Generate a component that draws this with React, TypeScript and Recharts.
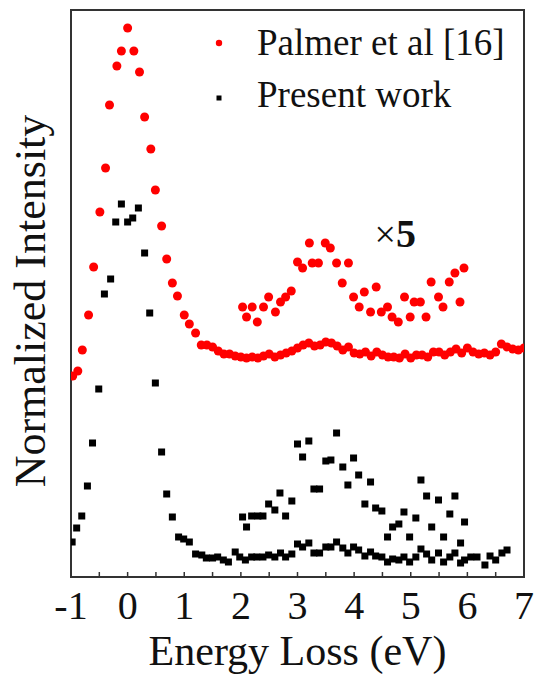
import {
  ScatterChart,
  Scatter,
  XAxis,
  YAxis,
  Legend,
  ReferenceArea,
  ReferenceDot
} from 'recharts';

const FONT = '"Liberation Serif", "Times New Roman", Times, serif';

// x axis ticks (major at integers, minor at half eV)
const energyTicks = [-1, -0.5, 0, 0.5, 1, 1.5, 2, 2.5, 3, 3.5, 4, 4.5, 5, 5.5, 6, 6.5, 7];

// Palmer et al [16] – full spectrum
const palmerEnergy = [
  -0.97, -0.88, -0.8, -0.69, -0.6, -0.49, -0.39, -0.32, -0.19, -0.11, 0, 0.11, 0.21, 0.3, 0.41,
  0.49, 0.6, 0.69, 0.79, 0.88, 1.0, 1.09, 1.2, 1.3, 1.4, 1.5, 1.6, 1.7, 1.8, 1.9, 2.0, 2.1, 2.2,
  2.3, 2.4, 2.5, 2.6, 2.7, 2.8, 2.9, 3.0, 3.1, 3.2, 3.3, 3.4, 3.5, 3.6, 3.7, 3.8, 3.9, 4.0, 4.1,
  4.2, 4.3, 4.4, 4.5, 4.6, 4.7, 4.8, 4.9, 5.0, 5.1, 5.2, 5.3, 5.4, 5.5, 5.6, 5.7, 5.8, 5.9, 6.0,
  6.1, 6.2, 6.3, 6.4, 6.5, 6.6, 6.7, 6.8, 6.9, 7.0
];
const palmerIntensity = [
  2.01, 2.06, 2.27, 2.62, 3.1, 3.65, 4.09, 4.72, 5.11, 5.26, 5.49, 5.26, 5.05, 4.6, 4.28,
  3.87, 3.51, 3.18, 2.94, 2.81, 2.62, 2.53, 2.44, 2.32, 2.32, 2.3, 2.26, 2.23, 2.23, 2.21, 2.2, 2.19, 2.2,
  2.19, 2.21, 2.23, 2.2, 2.22, 2.24, 2.26, 2.29, 2.32, 2.34, 2.31, 2.32, 2.35, 2.34, 2.31, 2.27, 2.3, 2.24, 2.23,
  2.25, 2.21, 2.25, 2.22, 2.2, 2.2, 2.19, 2.23, 2.19, 2.22, 2.22, 2.2, 2.25, 2.25, 2.22, 2.25, 2.28, 2.24, 2.29,
  2.25, 2.23, 2.24, 2.22, 2.25, 2.33, 2.3, 2.28, 2.27, 2.29
];

// Palmer et al [16] – x5 magnified region
const palmerX5Energy = [
  2.03, 2.1, 2.2, 2.29, 2.4, 2.49, 2.61, 2.7, 2.79, 2.89, 3.0, 3.09, 3.21, 3.26, 3.37, 3.49, 3.58,
  3.69, 3.79, 3.9, 3.99, 4.09, 4.18, 4.29, 4.39, 4.48, 4.59, 4.67, 4.78, 4.89, 4.99, 5.06, 5.17,
  5.27, 5.36, 5.49, 5.57, 5.68, 5.78, 5.87, 5.94
];
const palmerX5Intensity = [
  2.7, 2.6, 2.7, 2.55, 2.7, 2.8, 2.65, 2.75, 2.8, 2.86, 3.15, 3.09, 3.34, 3.14, 3.14, 3.34, 3.29,
  3.14, 2.94, 3.14, 2.8, 2.7, 2.85, 2.65, 2.9, 2.65, 2.7, 2.6, 2.55, 2.8, 2.6, 2.75, 2.75,
  2.6, 2.95, 2.8, 2.7, 2.95, 3.04, 2.75, 3.09
];

// Present work – full spectrum
const presentEnergy = [
  -0.98, -0.9, -0.81, -0.71, -0.62, -0.51, -0.41, -0.3, -0.21, -0.11, 0, 0.09, 0.19, 0.3, 0.39,
  0.49, 0.6, 0.69, 0.79, 0.9, 0.99, 1.09, 1.2, 1.31, 1.39, 1.5, 1.59, 1.69, 1.78, 1.9, 1.98, 2.08,
  2.19, 2.28, 2.39, 2.49, 2.6, 2.7, 2.79, 2.9, 3.0, 3.09, 3.2, 3.29, 3.39, 3.5, 3.59, 3.69, 3.8,
  3.89, 3.99, 4.08, 4.19, 4.29, 4.38, 4.49, 4.59, 4.68, 4.79, 4.88, 4.98, 5.09, 5.18, 5.28, 5.37,
  5.49, 5.58, 5.69, 5.78, 5.88, 5.95, 6.06, 6.17, 6.31, 6.4, 6.5, 6.61, 6.7
];
const presentIntensity = [
  0.35, 0.49, 0.61, 0.91, 1.34, 1.88, 2.83, 2.98, 3.55, 3.73, 3.55, 3.59, 3.69, 3.24, 2.64,
  1.94, 1.25, 0.83, 0.6, 0.4, 0.38, 0.35, 0.23, 0.22, 0.19, 0.19, 0.2, 0.17, 0.15, 0.25, 0.2, 0.17,
  0.2, 0.2, 0.2, 0.22, 0.2, 0.24, 0.2, 0.23, 0.33, 0.3, 0.34, 0.24, 0.24, 0.3, 0.3, 0.35, 0.29,
  0.24, 0.3, 0.27, 0.21, 0.25, 0.21, 0.2, 0.15, 0.18, 0.17, 0.2, 0.15, 0.2, 0.28, 0.23, 0.17,
  0.24, 0.15, 0.2, 0.24, 0.14, 0.17, 0.2, 0.2, 0.12, 0.21, 0.17, 0.24, 0.27
];

// Present work – x5 magnified region
const presentX5Energy = [
  2.03, 2.1, 2.19, 2.3, 2.39, 2.49, 2.6, 2.69, 2.79, 2.9, 3.0, 3.09, 3.2, 3.29, 3.39, 3.5, 3.59,
  3.69, 3.8, 3.89, 3.99, 4.08, 4.19, 4.29, 4.38, 4.49, 4.59, 4.68, 4.79, 4.88, 4.98, 5.09, 5.18,
  5.28, 5.37, 5.49, 5.58, 5.69, 5.78, 5.88, 5.95
];
const presentX5Intensity = [
  0.6, 0.5, 0.61, 0.61, 0.61, 0.73, 0.67, 0.84, 0.61, 0.76, 1.33, 1.2, 1.36, 0.88, 0.88, 1.16, 1.17,
  1.44, 1.1, 0.92, 1.19, 1.02, 0.73, 0.95, 0.69, 0.66, 0.4, 0.5, 0.53, 0.65, 0.4, 0.59, 0.97,
  0.81, 0.5, 0.77, 0.4, 0.63, 0.81, 0.34, 0.55
];

const toPoints = (xs: number[], ys: number[]) => xs.map((x, i) => ({ x, y: ys[i] }));

const palmerData = [...toPoints(palmerEnergy, palmerIntensity), ...toPoints(palmerX5Energy, palmerX5Intensity)];
const presentData = [...toPoints(presentEnergy, presentIntensity), ...toPoints(presentX5Energy, presentX5Intensity)];

const RED = '#ff0000';
const FRAME = '#333';

const RedDot = (p: any) => <circle cx={p.cx} cy={p.cy} r={4.5} fill={RED} />;
const BlackSquare = (p: any) => (
  <rect x={p.cx - 3.5} y={p.cy - 3.5} width={7} height={7} fill="#000" />
);

// inward ticks on the bottom axis, labels only on whole eV
const EnergyTick = ({ x, y, payload }: any) => {
  const v = payload.value;
  return (
    <g>
      <line x1={x} x2={x} y1={y} y2={y - 5} stroke={FRAME} strokeWidth={1.5} />
      {Number.isInteger(v) && (
        <text x={x} y={y + 42} textAnchor="middle" fontSize={40} fontFamily={FONT} fill="#111">
          {v}
        </text>
      )}
    </g>
  );
};

const renderLegend = () => (
  <svg width={330} height={110} style={{ display: 'block' }}>
    <circle cx={19} cy={33} r={3.2} fill={RED} />
    <text x={57} y={45} fontSize={37} fontFamily={FONT} fill="#111">
      Palmer et al [16]
    </text>
    <rect x={16.5} y={85.5} width={5} height={5} fill="#000" />
    <text x={57} y={97} fontSize={37} fontFamily={FONT} fill="#111">
      Present work
    </text>
  </svg>
);

export default function App() {
  return (
    <div style={{ position: 'absolute', left: 0, top: 0, width: 535, height: 677, background: '#fff' }}>
      <ScatterChart width={535} height={677} margin={{ top: 10, right: 11, bottom: 0, left: 0 }}>
        <XAxis
          type="number"
          dataKey="x"
          domain={[-1, 7]}
          ticks={energyTicks}
          interval={0}
          allowDataOverflow
          height={100}
          axisLine={false}
          tickLine={false}
          tickSize={0}
          tickMargin={0}
          tick={<EnergyTick />}
          label={({ viewBox }: any) => (
            <text
              x={viewBox.x + viewBox.width / 2}
              y={viewBox.y + 88}
              textAnchor="middle"
              fontSize={42}
              fontFamily={FONT}
              fill="#111"
            >
              Energy Loss (eV)
            </text>
          )}
        />
        <YAxis
          type="number"
          dataKey="y"
          domain={[0, 5.67]}
          allowDataOverflow
          width={71}
          tick={false}
          axisLine={false}
          tickLine={false}
          label={() => (
            <text
              x={45}
              y={301}
              transform="rotate(-90, 45, 301)"
              textAnchor="middle"
              fontSize={44}
              fontFamily={FONT}
              fill="#111"
            >
              Normalized Intensity
            </text>
          )}
        />
        <Legend
          layout="vertical"
          align="center"
          verticalAlign="middle"
          content={renderLegend}
          wrapperStyle={{ left: 200, top: 10, width: 330, height: 110 }}
        />
        <Scatter
          name="Palmer et al [16]"
          data={palmerData}
          shape={RedDot}
          isAnimationActive={false}
        />
        <Scatter
          name="Present work"
          data={presentData}
          shape={BlackSquare}
          isAnimationActive={false}
        />
        <ReferenceArea
          x1={-1}
          x2={7}
          y1={0}
          y2={5.67}
          fill="none"
          fillOpacity={0}
          stroke={FRAME}
          strokeWidth={2}
        />
        <ReferenceDot
          x={4.36}
          y={3.3}
          r={0}
          fill="none"
          stroke="none"
          label={({ viewBox }: any) => (
            <text x={viewBox.x} y={viewBox.y} fontSize={38} fontFamily={FONT} fill="#111">
              ×<tspan fontWeight="bold" fontSize={40}>5</tspan>
            </text>
          )}
        />
      </ScatterChart>
    </div>
  );
}
